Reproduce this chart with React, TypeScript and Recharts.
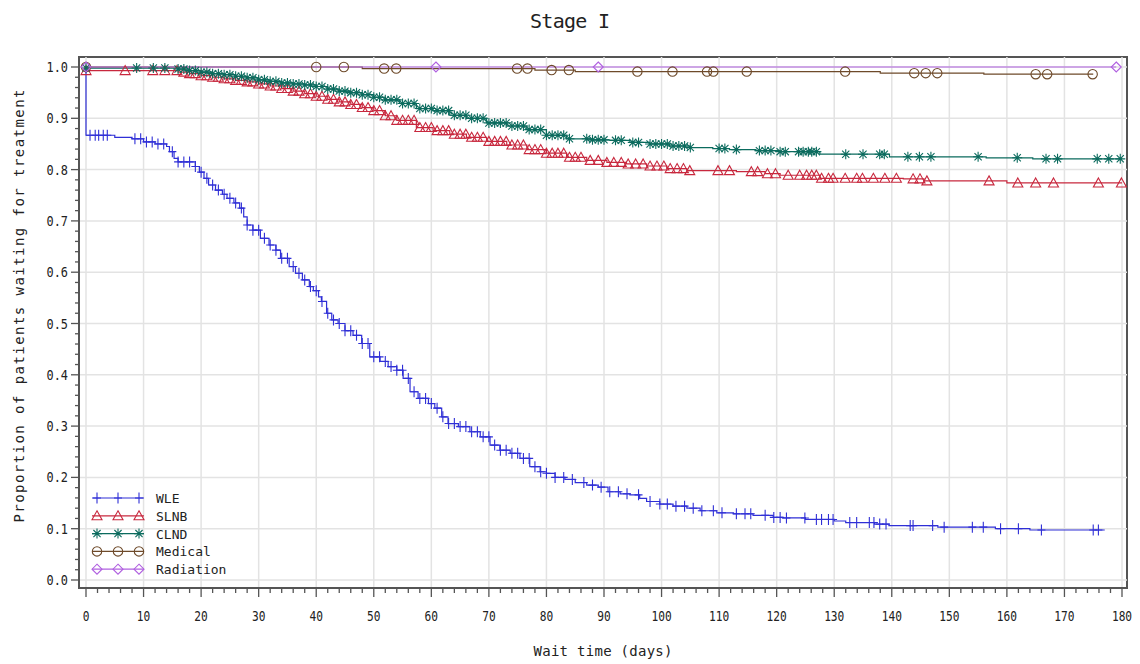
import React from 'react';
import { ComposedChart, Line, Scatter, XAxis, YAxis, ReferenceLine, ReferenceArea } from 'recharts';

// ---------- series meta ----------
const seriesNames = ['WLE', 'SLNB', 'CLND', 'Medical', 'Radiation'];
const seriesColors = ['#2f2fd6', '#c8283e', '#0b6b5e', '#6e4a2a', '#b060e0'];
const seriesMarkers = ['plus', 'triangle', 'star', 'circle', 'diamond'];

// ---------- axis ticks ----------
const xMajorTicks = [0, 10, 20, 30, 40, 50, 60, 70, 80, 90, 100, 110, 120, 130, 140, 150, 160, 170, 180];
const yMajorTicks = [0, 0.1, 0.2, 0.3, 0.4, 0.5, 0.6, 0.7, 0.8, 0.9, 1.0];

// ---------- WLE ----------
const wleDays = [0, 0, 5, 8, 10, 12, 14, 14.5, 15.3, 16, 19, 19.7, 20.5, 21.3, 22.5, 23.7, 24.5, 25.7, 26.7, 27.4, 28, 29, 30.3, 31.8, 33, 33.8, 35.3, 36.4, 37.6, 38.8, 39.5, 40.4, 40.9, 41.8, 42.7, 43.8, 45, 46.4, 47.9, 49.3, 51.1, 52.5, 54, 55.1, 56.3, 57.7, 59.5, 60.6, 61.8, 62.9, 64.7, 66.7, 68.5, 70.2, 71.9, 73.7, 75.4, 77.1, 78.9, 80, 81.5, 83.2, 85, 87, 89, 90.7, 92.8, 94.5, 96.2, 97.4, 99.7, 102, 104.4, 106.7, 109.6, 112.5, 115.9, 119.4, 121, 125, 130, 132, 137, 139.5, 148, 158, 164, 177];
const wleSurv = [1.0, 0.867, 0.863, 0.86, 0.854, 0.85, 0.845, 0.835, 0.822, 0.815, 0.806, 0.795, 0.783, 0.77, 0.76, 0.752, 0.744, 0.735, 0.725, 0.708, 0.692, 0.682, 0.666, 0.653, 0.643, 0.627, 0.611, 0.598, 0.585, 0.572, 0.564, 0.552, 0.543, 0.52, 0.507, 0.5, 0.486, 0.477, 0.461, 0.435, 0.426, 0.416, 0.409, 0.393, 0.367, 0.354, 0.344, 0.335, 0.318, 0.305, 0.299, 0.289, 0.279, 0.263, 0.253, 0.247, 0.237, 0.221, 0.211, 0.208, 0.2, 0.196, 0.19, 0.185, 0.181, 0.172, 0.168, 0.166, 0.159, 0.153, 0.148, 0.144, 0.14, 0.135, 0.131, 0.129, 0.126, 0.122, 0.121, 0.118, 0.115, 0.112, 0.109, 0.106, 0.103, 0.1, 0.0975, 0.0975];
const wleCensor = [0.7, 1.6, 2.2, 3, 3.7, 8.5, 9.5, 10.5, 11.5, 12.5, 13.5, 15, 16, 17, 18, 19, 20, 21, 22, 23, 24, 25, 26, 27, 28, 29, 30, 31, 32, 33, 34, 35, 36, 37, 38, 39, 40, 41, 42, 43, 44, 45, 46, 47, 48, 49, 50, 51, 52, 53, 54, 55, 56, 57, 58, 59, 60, 61, 62, 63, 64, 65, 66, 67, 68, 69, 70, 71, 72, 73, 74, 75, 76, 77, 78, 79, 80, 81.5, 83, 84.5, 86.5, 88, 89.5, 91, 92.5, 94, 96, 98, 99.7, 101, 102.5, 104, 105.5, 107, 109, 110.5, 113, 114.5, 115.5, 118, 119.5, 120.6, 121.7, 124.9, 126.9, 127.8, 129, 129.8, 132.7, 133.9, 136.1, 136.9, 137.9, 139, 143.2, 143.7, 147.1, 149.1, 154, 155.9, 158.9, 162, 166, 175, 175.9];

// ---------- SLNB ----------
const slnbDays = [0, 16, 18, 20, 22, 24, 26, 28, 30, 32, 34, 36, 38, 40, 42, 44, 46, 48, 50, 52, 54, 57.4, 60.3, 63.2, 66.1, 69.6, 73.1, 76.6, 80, 83.5, 87, 90.5, 93.9, 97.4, 100.9, 104.4, 113, 118, 120.6, 127.5, 142, 145.6, 160, 180];
const slnbSurv = [0.993, 0.99, 0.987, 0.983, 0.98, 0.977, 0.974, 0.971, 0.967, 0.963, 0.958, 0.953, 0.948, 0.943, 0.937, 0.932, 0.927, 0.921, 0.915, 0.905, 0.896, 0.882, 0.876, 0.869, 0.863, 0.855, 0.848, 0.839, 0.832, 0.824, 0.818, 0.814, 0.811, 0.807, 0.802, 0.798, 0.796, 0.792, 0.789, 0.783, 0.782, 0.778, 0.774, 0.774];
const slnbCensor = [0, 6.8, 11.6, 13.7, 15.8, 17, 18, 19, 20, 21, 22, 23, 24, 25, 26, 27, 28, 29, 30, 31, 32, 33, 34, 35, 36, 37, 38, 39, 40, 41, 42, 43, 44, 45, 46, 47, 48, 49, 50, 51, 52, 53, 54, 55, 56, 57, 58, 59, 60, 61, 62, 63, 64, 65, 66, 67, 68, 69, 70, 71, 72, 73, 74, 75, 76, 77, 78, 79, 80, 81, 82, 83, 84, 85, 86, 87.6, 89, 90.5, 91.7, 93, 94.2, 95.5, 96.8, 98, 99.2, 100.4, 101.5, 102.7, 103.8, 104.9, 109.8, 111.8, 115.6, 116.7, 118.4, 119.8, 122, 124, 125.2, 126.1, 126.9, 127.8, 129, 129.8, 131.9, 133.9, 134.9, 136.8, 138.8, 140.8, 143.7, 144.9, 146.1, 156.9, 161.9, 165, 168.1, 175.9, 179.9];

// ---------- CLND ----------
const clndDays = [0, 16, 18, 20, 22, 24, 26, 28, 30, 32, 34, 36, 38, 40, 42, 44, 46, 48, 50, 52, 54.5, 57.4, 60.3, 63.2, 66.1, 69.6, 73.1, 76.6, 80, 83.5, 87.6, 91, 94.5, 97.9, 101.4, 104.9, 108.9, 111.8, 116.4, 120.4, 127.5, 139.6, 156.4, 164.5, 180];
const clndSurv = [0.998, 0.996, 0.993, 0.99, 0.987, 0.985, 0.982, 0.979, 0.975, 0.972, 0.969, 0.967, 0.965, 0.962, 0.957, 0.953, 0.95, 0.946, 0.941, 0.936, 0.929, 0.919, 0.915, 0.906, 0.9, 0.891, 0.885, 0.878, 0.867, 0.86, 0.858, 0.857, 0.853, 0.85, 0.846, 0.843, 0.841, 0.839, 0.837, 0.835, 0.83, 0.825, 0.823, 0.821, 0.821];
const clndCensor = [0, 8.8, 11.7, 13.7, 16, 17, 18, 19, 20, 21, 22, 23, 24, 25, 26, 27, 28, 29, 30, 31, 32, 33, 34, 35, 36, 37, 38, 39, 40, 41, 42, 43, 44, 45, 46, 47, 48, 49, 50, 51, 52, 53, 54, 55, 56, 57, 58, 59, 60, 61, 62, 63, 64, 65, 66, 67, 68, 69, 70, 71, 72, 73, 74, 75, 76, 77, 78, 79, 80, 81, 82, 83, 84, 87, 88, 89, 90, 92, 93, 95, 96, 98, 99, 100, 101, 102, 103, 104, 105, 110, 111, 113, 117, 118, 119, 120.6, 121.5, 123.8, 124.6, 125.5, 126.1, 126.9, 132, 135, 137.9, 138.7, 142.8, 144.8, 146.8, 155, 161.8, 166.8, 168.8, 175.7, 177.7, 179.7];

// ---------- Medical ----------
const medDays = [0, 48, 78, 85, 138, 156, 175];
const medSurv = [1.0, 0.997, 0.994, 0.991, 0.988, 0.986, 0.986];
const medCensor = [0, 40, 44.8, 51.8, 53.9, 74.9, 76.7, 80.9, 83.9, 95.8, 101.9, 107.9, 109, 114.8, 131.9, 143.9, 145.9, 147.9, 165, 167, 174.9];

// ---------- Radiation ----------
const radDays = [0, 179];
const radSurv = [1.0, 1.0];
const radCensor = [0, 60.8, 89, 179];

// ---------- helpers ----------
function survAt(days: number[], surv: number[], d: number) {
  let v = surv[0];
  for (let i = 0; i < days.length; i++) {
    if (days[i] <= d) v = surv[i];
    else break;
  }
  return v;
}
const toSteps = (days: number[], surv: number[]) => days.map((d, i) => ({ day: d, s: surv[i] }));
const toCensor = (days: number[], surv: number[], cens: number[]) =>
  cens.map((d) => ({ day: d, s: survAt(days, surv, d) }));

const seriesSteps = [
  toSteps(wleDays, wleSurv),
  toSteps(slnbDays, slnbSurv),
  toSteps(clndDays, clndSurv),
  toSteps(medDays, medSurv),
  toSteps(radDays, radSurv),
];
const seriesCensor = [
  toCensor(wleDays, wleSurv, wleCensor),
  toCensor(slnbDays, slnbSurv, slnbCensor),
  toCensor(clndDays, clndSurv, clndCensor),
  toCensor(medDays, medSurv, medCensor),
  toCensor(radDays, radSurv, radCensor),
];

const xTicks: number[] = [];
for (let i = 0; i <= 90; i++) xTicks.push(i * 2);
const yTicks: number[] = [];
for (let i = 0; i <= 50; i++) yTicks.push(i / 50);

const FONT = '"DejaVu Sans Mono", monospace';
const AXIS = '#555555';

function Marker({ kind, cx, cy, color }: { kind: string; cx: number; cy: number; color: string }) {
  if (cx == null || cy == null || isNaN(cx) || isNaN(cy)) return null;
  const common = { stroke: color, fill: 'none', strokeWidth: 1.1 };
  switch (kind) {
    case 'plus':
      return <path d={`M${cx},${cy - 5.5}V${cy + 5.5}M${cx - 4},${cy}H${cx + 4}`} {...common} />;
    case 'triangle':
      return <path d={`M${cx},${cy - 5}L${cx + 5},${cy + 4}L${cx - 5},${cy + 4}Z`} {...common} />;
    case 'star':
      return (
        <path
          d={`M${cx},${cy - 5}V${cy + 5}M${cx - 5},${cy}H${cx + 5}M${cx - 3.6},${cy - 3.6}L${cx + 3.6},${cy + 3.6}M${cx - 3.6},${cy + 3.6}L${cx + 3.6},${cy - 3.6}`}
          {...common}
        />
      );
    case 'circle':
      return <circle cx={cx} cy={cy} r={4.7} {...common} />;
    case 'diamond':
      return <path d={`M${cx},${cy - 5}L${cx + 5},${cy}L${cx},${cy + 5}L${cx - 5},${cy}Z`} {...common} />;
    default:
      return null;
  }
}

const renderXTick = (props: any) => {
  const { x, y, payload } = props;
  const v = payload.value;
  const major = xMajorTicks.includes(v);
  return (
    <g transform={`translate(${x},${y})`}>
      <line x1={0} x2={0} y1={0} y2={major ? 9 : 5} stroke={AXIS} strokeWidth={1.3} />
      {major && (
        <text x={0} y={33} textAnchor="middle" fontFamily={FONT} fontSize={14} fill="#222" transform="scale(0.8,1)">
          {v}
        </text>
      )}
    </g>
  );
};

const renderYTick = (props: any) => {
  const { x, y, payload } = props;
  const v = payload.value;
  const major = Math.round(v * 50) % 5 === 0;
  return (
    <g transform={`translate(${x},${y})`}>
      <line x1={0} x2={major ? -8 : -4} y1={0} y2={0} stroke={AXIS} strokeWidth={1.3} />
      {major && (
        <text x={-13} y={5} textAnchor="end" fontFamily={FONT} fontSize={14} fill="#222" transform="scale(0.85,1)" style={{ transformOrigin: '0 0' }}>
          {v.toFixed(1)}
        </text>
      )}
    </g>
  );
};

export default function App() {
  const W = 1140;
  const H = 664;
  return (
    <div style={{ position: 'absolute', left: 0, top: 0, width: W, height: H, background: '#fff' }}>
      <ComposedChart width={W} height={H} margin={{ top: 57, right: 13, bottom: 36, left: 19 }}>
        <XAxis
          type="number"
          dataKey="day"
          domain={[-1.216, 180.869]}
          ticks={xTicks}
          interval={0}
          tickSize={0}
          tickMargin={0}
          tickLine={false}
          tick={renderXTick}
          axisLine={{ stroke: AXIS, strokeWidth: 2 }}
          height={40}
          allowDataOverflow
        />
        <YAxis
          type="number"
          domain={[-0.0156, 1.0195]}
          ticks={yTicks}
          interval={0}
          tickSize={0}
          tickMargin={0}
          tickLine={false}
          tick={renderYTick}
          axisLine={{ stroke: AXIS, strokeWidth: 2 }}
          width={60}
          allowDataOverflow
        />
        {xMajorTicks.map((v) => (
          <ReferenceLine key={'gx' + v} x={v} stroke="#e3e3e3" strokeWidth={1.5} />
        ))}
        {yMajorTicks.map((v) => (
          <ReferenceLine key={'gy' + v} y={v} stroke="#e3e3e3" strokeWidth={1.5} />
        ))}
        <ReferenceArea x1={-1.216} x2={180.869} y1={-0.0156} y2={1.0195} fill="none" stroke={AXIS} strokeWidth={2} />
        {seriesNames.map((name, i) => (
          <Line
            key={'l' + name}
            data={seriesSteps[i]}
            dataKey="s"
            type="stepAfter"
            stroke={seriesColors[i]}
            strokeWidth={1.2}
            dot={false}
            activeDot={false}
            isAnimationActive={false}
            name={name}
          />
        ))}
        {seriesNames.map((name, i) => (
          <Scatter
            key={'s' + name}
            data={seriesCensor[i]}
            dataKey="s"
            isAnimationActive={false}
            shape={(p: any) => <Marker kind={seriesMarkers[i]} cx={p.cx} cy={p.cy} color={seriesColors[i]} />}
          />
        ))}
      </ComposedChart>
      <svg width={W} height={H} style={{ position: 'absolute', left: 0, top: 0, pointerEvents: 'none' }}>
        <text x={570} y={28} textAnchor="middle" fontFamily={FONT} fontSize={20} fill="#222" textLength={80} lengthAdjust="spacing">
          Stage I
        </text>
        <text x={603} y={656} textAnchor="middle" fontFamily={FONT} fontSize={14} fill="#222" textLength={139} lengthAdjust="spacing">
          Wait time (days)
        </text>
        <text
          transform="translate(24,306) rotate(-90)"
          textAnchor="middle"
          fontFamily={FONT}
          fontSize={14}
          fill="#222"
          textLength={433}
          lengthAdjust="spacing"
        >
          Proportion of patients waiting for treatment
        </text>
        {seriesNames.map((name, i) => {
          const y = 498 + i * 17.8;
          return (
            <g key={'lg' + name}>
              <line x1={92} x2={144} y1={y} y2={y} stroke={seriesColors[i]} strokeWidth={1.2} />
              {[97, 118, 139].map((mx) => (
                <Marker key={mx} kind={seriesMarkers[i]} cx={mx} cy={y} color={seriesColors[i]} />
              ))}
              <text x={156} y={y + 5} fontFamily={FONT} fontSize={13} fill="#222" letterSpacing={0}>
                {name}
              </text>
            </g>
          );
        })}
      </svg>
    </div>
  );
}
